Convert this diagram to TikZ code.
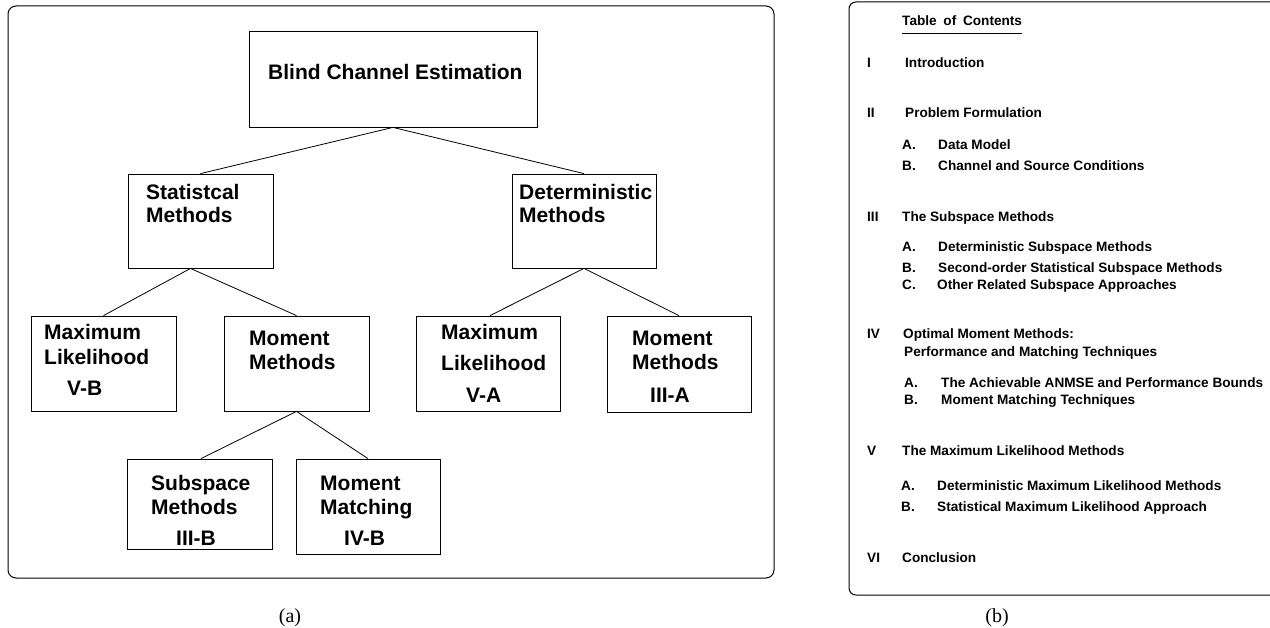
\documentclass[tikz,border=0pt]{standalone}
\usepackage{fontspec}
\setmainfont{Liberation Sans}
\newfontfamily\capserif{Liberation Serif}
\begin{document}
\begin{tikzpicture}[x=1pt,y=-1pt,
  box/.style={draw, line width=0.8pt, inner sep=0pt},
  link/.style={line width=0.8pt},
  frame/.style={draw, line width=1pt, rounded corners=8pt, inner sep=0pt},
  lbl/.style={font=\fontsize{21}{25}\selectfont\bfseries, anchor=base west, inner sep=0pt},
  tocl/.style={font=\fontsize{13.6}{16}\selectfont\bfseries, anchor=base west, inner sep=0pt},
  capt/.style={font=\capserif\fontsize{20}{24}\selectfont, anchor=base, inner sep=0pt}]
\useasboundingbox (0,0) rectangle (1270,628);

% ---------- panel (a) ----------
\node[frame, minimum width=766pt, minimum height=572pt] (panela) at (391,292) {};

\node[box, minimum width=288pt, minimum height=96pt] (top)   at (393,79) {};
\node[box, minimum width=145pt, minimum height=94pt] (stat)  at (200.5,221) {};
\node[box, minimum width=144pt, minimum height=94pt] (det)   at (584,221) {};
\node[box, minimum width=145pt, minimum height=95pt] (mlvb)  at (103.5,363.5) {};
\node[box, minimum width=145pt, minimum height=95pt] (mm)    at (296.5,363.5) {};
\node[box, minimum width=144pt, minimum height=95pt] (mlva)  at (488,363.5) {};
\node[box, minimum width=144pt, minimum height=96pt] (mmta)  at (679,364) {};
\node[box, minimum width=145pt, minimum height=90pt] (sub)   at (199.5,504) {};
\node[box, minimum width=144pt, minimum height=95pt] (match) at (368,506.5) {};

\draw[link] (top.south) -- (stat.north);
\draw[link] (top.south) -- (det.north);
\draw[link] ([xshift=-10pt]stat.south) -- (mlvb.north);
\draw[link] ([xshift=-10pt]stat.south) -- (mm.north);
\draw[link] (det.south) -- ([xshift=2pt]mlva.north);
\draw[link] (det.south) -- (mmta.north);
\draw[link] (mm.south) -- ([xshift=1.5pt]sub.north);
\draw[link] (mm.south) -- (match.north);

\node[lbl] (t1) at (268,79.5) {Blind Channel Estimation};
\node[lbl] (s1) at (146,199.5) {Statistcal};
\node[lbl] (s2) at (146,222.5) {Methods};
\node[lbl] (d1) at (519,199.5) {Deterministic};
\node[lbl] (d2) at (519,222.5) {Methods};
\node[lbl] (b1) at (44,339.5) {Maximum};
\node[lbl] (b2) at (44,364.5) {Likelihood};
\node[lbl] (b3) at (67,395.5) {V-B};
\node[lbl] (m1) at (249,345.5) {Moment};
\node[lbl] (m2) at (249,369.5) {Methods};
\node[lbl] (a1) at (441,339.5) {Maximum};
\node[lbl] (a2) at (441,370.5) {Likelihood};
\node[lbl] (a3) at (466,402.5) {V-A};
\node[lbl] (r1) at (632,345.5) {Moment};
\node[lbl] (r2) at (632,369.5) {Methods};
\node[lbl] (r3) at (650,402.5) {III-A};
\node[lbl] (u1) at (151,490.5) {Subspace};
\node[lbl] (u2) at (151,514.5) {Methods};
\node[lbl] (u3) at (176,545.5) {III-B};
\node[lbl] (x1) at (320,490.5) {Moment};
\node[lbl] (x2) at (320,514.5) {Matching};
\node[lbl] (x3) at (344,545.5) {IV-B};

\node[capt] (capa) at (290,622) {(a)};

% ---------- panel (b) ----------
\draw[line width=1pt, rounded corners=7pt] (1270,2) -- (849,2) -- (849,595) -- (1270,595);

\node[tocl] (toc) at (902,26) {Table\hspace{3pt} of\hspace{3pt} Contents};
\draw[line width=0.8pt] ([yshift=-7pt]toc.base west) -- ([yshift=-7pt]toc.base east);

\node[tocl] (n1) at (867,68) {I};
\node[tocl] (e1) at (905,68) {Introduction};
\node[tocl] (n2) at (867,118) {II};
\node[tocl] (e2) at (905,118) {Problem Formulation};
\node[tocl] (l2a) at (902,150) {A.};
\node[tocl] (e2a) at (938,150) {Data Model};
\node[tocl] (l2b) at (902,171) {B.};
\node[tocl] (e2b) at (938,171) {Channel and Source Conditions};
\node[tocl] (n3) at (867,222) {III};
\node[tocl] (e3) at (902,222) {The Subspace Methods};
\node[tocl] (l3a) at (902,252) {A.};
\node[tocl] (e3a) at (938,252) {Deterministic Subspace Methods};
\node[tocl] (l3b) at (902,273) {B.};
\node[tocl] (e3b) at (938,273) {Second-order Statistical Subspace Methods};
\node[tocl] (l3c) at (902,290) {C.};
\node[tocl] (e3c) at (937,290) {Other Related Subspace Approaches};
\node[tocl] (n4) at (867,339) {IV};
\node[tocl] (e4) at (903,339) {Optimal Moment Methods:};
\node[tocl] (e4x) at (904,357) {Performance and Matching Techniques};
\node[tocl] (l4a) at (904,388) {A.};
\node[tocl] (e4a) at (941,388) {The Achievable ANMSE and Performance Bounds};
\node[tocl] (l4b) at (904,405) {B.};
\node[tocl] (e4b) at (941,405) {Moment Matching Techniques};
\node[tocl] (n5) at (867,456) {V};
\node[tocl] (e5) at (902,456) {The Maximum Likelihood Methods};
\node[tocl] (l5a) at (901,490) {A.};
\node[tocl] (e5a) at (937,490) {Deterministic Maximum Likelihood Methods};
\node[tocl] (l5b) at (901,511) {B.};
\node[tocl] (e5b) at (937,511) {Statistical Maximum Likelihood Approach};
\node[tocl] (n6) at (867,562) {VI};
\node[tocl] (e6) at (902,562) {Conclusion};

\node[capt] (capb) at (997,622) {(b)};
\end{tikzpicture}
\end{document}
